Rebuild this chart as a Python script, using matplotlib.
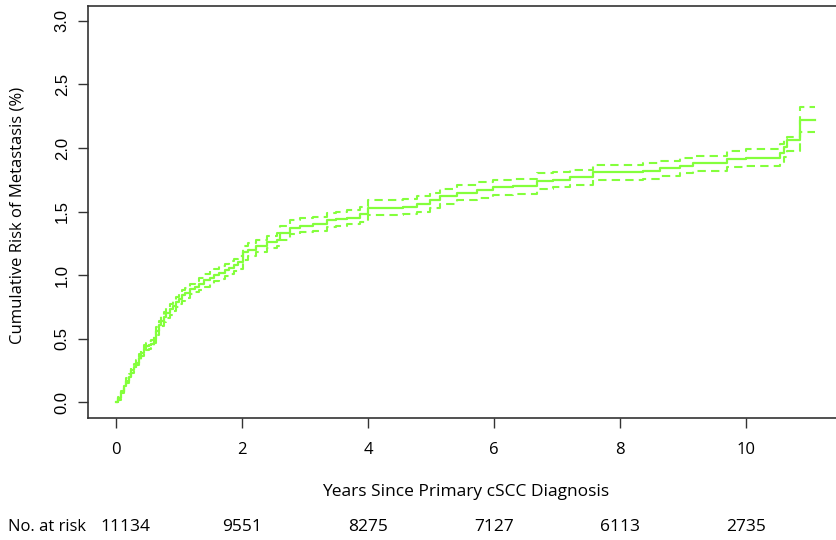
"""
 Cumulative incidence of metastasis after primary cSCC diagnosis.
"""

import numpy as np
import matplotlib
matplotlib.use('Agg')
import matplotlib.pyplot as plt
from matplotlib.transforms import blended_transform_factory


# Curve: years, estimate and confidence band (%)
years = [0.00, 0.04, 0.08, 0.12, 0.16, 0.20, 0.24, 0.28, 0.32, 0.36,
         0.40, 0.44, 0.48, 0.52, 0.56, 0.60, 0.64, 0.68, 0.72, 0.76,
         0.80, 0.85, 0.90, 0.95, 1.00, 1.05, 1.10, 1.18, 1.25, 1.32,
         1.40, 1.49, 1.56, 1.64, 1.73, 1.80, 1.87, 1.94, 2.02, 2.10,
         2.23, 2.40, 2.55, 2.60, 2.76, 2.92, 3.13, 3.35, 3.50, 3.67,
         3.87, 4.00, 4.56, 4.78, 4.98, 5.14, 5.41, 5.73, 5.99, 6.30,
         6.68, 6.94, 7.20, 7.57, 8.37, 8.63, 8.95, 9.16, 9.70, 10.00,
         10.54, 10.60, 10.65, 10.86, 11.10]
risk = [0.00, 0.03, 0.08, 0.13, 0.17, 0.20, 0.25, 0.28, 0.31, 0.35,
        0.39, 0.42, 0.44, 0.45, 0.46, 0.50, 0.56, 0.61, 0.64, 0.67,
        0.70, 0.73, 0.76, 0.79, 0.81, 0.84, 0.86, 0.89, 0.91, 0.93,
        0.96, 0.98, 1.00, 1.02, 1.04, 1.06, 1.08, 1.10, 1.18, 1.20,
        1.23, 1.26, 1.28, 1.33, 1.37, 1.39, 1.40, 1.43, 1.44, 1.45,
        1.48, 1.53, 1.54, 1.56, 1.59, 1.62, 1.65, 1.67, 1.69, 1.70,
        1.74, 1.75, 1.77, 1.81, 1.82, 1.84, 1.86, 1.88, 1.91, 1.92,
        1.96, 2.01, 2.06, 2.22, 2.22]
upper = [0.00, 0.04, 0.09, 0.14, 0.19, 0.22, 0.27, 0.30, 0.33, 0.38,
         0.42, 0.45, 0.47, 0.48, 0.49, 0.53, 0.59, 0.64, 0.68, 0.71,
         0.74, 0.77, 0.80, 0.83, 0.85, 0.88, 0.90, 0.93, 0.95, 0.98,
         1.01, 1.03, 1.05, 1.07, 1.09, 1.11, 1.13, 1.15, 1.23, 1.25,
         1.28, 1.31, 1.33, 1.39, 1.43, 1.45, 1.46, 1.49, 1.50, 1.51,
         1.54, 1.59, 1.60, 1.62, 1.65, 1.68, 1.71, 1.73, 1.75, 1.76,
         1.80, 1.81, 1.83, 1.87, 1.88, 1.90, 1.92, 1.94, 1.98, 1.99,
         2.03, 2.08, 2.09, 2.32, 2.32]
lower = [0.00, 0.02, 0.07, 0.12, 0.15, 0.18, 0.23, 0.26, 0.29, 0.32,
         0.36, 0.39, 0.41, 0.42, 0.43, 0.47, 0.53, 0.58, 0.60, 0.63,
         0.66, 0.69, 0.72, 0.75, 0.77, 0.80, 0.82, 0.85, 0.87, 0.88,
         0.91, 0.93, 0.95, 0.97, 0.99, 1.01, 1.03, 1.05, 1.12, 1.15,
         1.18, 1.21, 1.23, 1.28, 1.32, 1.34, 1.35, 1.38, 1.39, 1.40,
         1.42, 1.47, 1.48, 1.50, 1.53, 1.56, 1.59, 1.61, 1.63, 1.64,
         1.68, 1.69, 1.71, 1.75, 1.76, 1.78, 1.80, 1.82, 1.85, 1.86,
         1.89, 1.93, 1.98, 2.13, 2.13]

# Number at risk table
risk_times = [0, 2, 4, 6, 8, 10]
n_at_risk = [11134, 9551, 8275, 7127, 6113, 2735]

x_ticks = [0, 2, 4, 6, 8, 10]
y_ticks = [0.0, 0.5, 1.0, 1.5, 2.0, 2.5, 3.0]

curve_color = '#84FF3C'
label_font = 'Open Sans'
tick_font = 'Liberation Sans'


fig = plt.figure(figsize=(8.36, 5.40), dpi=100)
ax = fig.add_axes([88 / 836, 1 - 418 / 540, 1 - 88 / 836 + 0.02, (418 - 5.7) / 540])

# Curve: estimate and confidence limits
ax.step(years, risk, where='post', color=curve_color, lw=1.6)
ax.step(years, upper, where='post', color=curve_color, lw=1.5, dashes=(4, 2.5))
ax.step(years, lower, where='post', color=curve_color, lw=1.5, dashes=(4, 2.5))

ax.set_xlim(-0.444, 11.43 + 0.02 * 836 / 63)
ax.set_ylim(-0.124, 3.12)

ax.set_xticks(x_ticks)
ax.set_xticklabels([str(v) for v in x_ticks], family=label_font, fontsize=12)
ax.set_yticks(y_ticks)
ax.set_yticklabels(['%.1f' % v for v in y_ticks], family=tick_font, fontsize=12,
                   rotation=90, va='center')
ax.tick_params(direction='out', length=7.2, width=1, color='#333333')
ax.tick_params(axis='x', pad=10)
ax.tick_params(axis='y', pad=6)

for side in ['left', 'bottom', 'top', 'right']:
    ax.spines[side].set_linewidth(1.2)
    ax.spines[side].set_color('#333333')

# Axis titles
fig.text(466 / 836, 1 - 492 / 540, 'Years Since Primary cSCC Diagnosis',
         family=label_font, fontsize=12.5, ha='center', va='center')
fig.text(18 / 836, 1 - 215 / 540, 'Cumulative Risk of Metastasis (%)',
         family=label_font, fontsize=12, ha='center', va='center', rotation=90)

# Number at risk row
trans = blended_transform_factory(ax.transData, fig.transFigure)
fig.text(8 / 836, 1 - 527 / 540, 'No. at risk', family=label_font, fontsize=12,
         ha='left', va='center')
for t, n in zip(risk_times, n_at_risk):
    ax.text(t + 0.15 if t == 0 else t, 1 - 527 / 540, str(n), transform=trans,
            family=label_font, fontsize=12.5, ha='center', va='center', clip_on=False)

fig.savefig('out.png', dpi=100)
